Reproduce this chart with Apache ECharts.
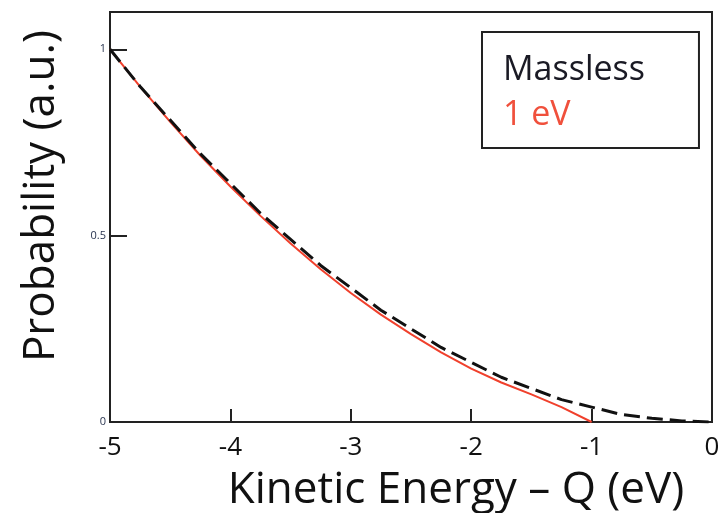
<!DOCTYPE html>
<html>
<head>
<meta charset="utf-8">
<script src="https://cdn.jsdelivr.net/npm/echarts@6/dist/echarts.min.js"></script>
<style>
  html, body { margin: 0; padding: 0; background: #fff; }
  #chart { width: 718px; height: 513px; }
</style>
</head>
<body>
<div id="chart"></div>
<script>
// Kinetic energy relative to the endpoint Q (eV)
const energy = [-5, -4.75, -4.5, -4.25, -4, -3.75, -3.5, -3.25, -3, -2.75, -2.5,
                -2.25, -2, -1.75, -1.5, -1.25, -1, -0.75, -0.5, -0.25, 0];

// Spectrum shape for a massless neutrino
const massless = [1.00, 0.90, 0.81, 0.72, 0.64, 0.56, 0.49, 0.42, 0.36, 0.30, 0.25,
                  0.20, 0.16, 0.12, 0.09, 0.06, 0.04, 0.02, 0.01, 0.003, 0];

// Spectrum shape for a 1 eV neutrino (ends at -1 eV)
const energyMassive = [-5, -4.75, -4.5, -4.25, -4, -3.75, -3.5, -3.25, -3, -2.75, -2.5,
                       -2.25, -2, -1.75, -1.5, -1.25, -1];
const massive1eV = [1.00, 0.90, 0.805, 0.715, 0.632, 0.553, 0.479, 0.41, 0.346, 0.288, 0.236,
                    0.187, 0.143, 0.106, 0.074, 0.04, 0];

const xTicks = [-5, -4, -3, -2, -1, 0];
const yTicks = [0, 0.5, 1];

const seriesNames = ['Massless', '1 eV'];

const pairs = (xs, ys) => xs.map((x, i) => [x, ys[i]]);

const font = '"Open Sans", Lato, sans-serif';

const chart = echarts.init(document.getElementById('chart'), null, { renderer: 'canvas' });

chart.setOption({
  animation: false,
  backgroundColor: '#ffffff',
  grid: {
    left: 110, right: 6, top: 12, bottom: 91,
    outerBoundsMode: 'none',
    containLabel: false,
    show: true, borderColor: '#222', borderWidth: 2, backgroundColor: 'transparent'
  },
  legend: {
    orient: 'vertical',
    left: 482, top: 32,
    padding: [16, 54, 10, 16],
    itemWidth: 0, itemHeight: 0, itemGap: 0,
    icon: 'none',
    borderColor: '#222', borderWidth: 2,
    selectedMode: false,
    textStyle: { fontFamily: font, fontSize: 34, lineHeight: 45, padding: 0 },
    data: [
      { name: seriesNames[0], textStyle: { color: '#1a1a24' } },
      { name: seriesNames[1], textStyle: { color: '#f0503c' } }
    ]
  },
  xAxis: {
    type: 'value',
    min: xTicks[0], max: xTicks[xTicks.length - 1], interval: 1,
    name: 'Kinetic Energy \u2013 Q (eV)',
    nameLocation: 'middle', nameGap: 46,
    nameTextStyle: { fontFamily: font, fontSize: 44, color: '#111', padding: [0, 0, 0, 90] },
    axisLine: { show: true, onZero: false, lineStyle: { color: '#222', width: 2 } },
    axisTick: { show: true, inside: true, length: 13, lineStyle: { color: '#222', width: 2 } },
    axisLabel: {
      fontFamily: font, fontSize: 26, color: '#111', margin: 13,
      formatter: v => String(v)
    },
    splitLine: { show: false }
  },
  yAxis: {
    type: 'value',
    min: 0, max: 1.1, interval: 0.5,
    name: 'Probability (a.u.)',
    nameLocation: 'middle', nameGap: 47, nameRotate: 90,
    nameTextStyle: { fontFamily: font, fontSize: 44, color: '#111', padding: [0, 0, 0, 42] },
    axisLine: { show: true, onZero: false, lineStyle: { color: '#222', width: 2 } },
    axisTick: { show: true, inside: true, length: 17, lineStyle: { color: '#222', width: 2 } },
    axisLabel: {
      fontFamily: font, fontSize: 11, color: '#2a3550', margin: 4,
      showMaxLabel: false,
      formatter: v => (yTicks.indexOf(v) >= 0 ? String(v) : '')
    },
    splitLine: { show: false }
  },
  series: [
    {
      name: seriesNames[0],
      type: 'line',
      data: pairs(energy, massless),
      showSymbol: false,
      smooth: false,
      z: 3,
      lineStyle: { color: '#111', width: 3, type: [16, 7] }
    },
    {
      name: seriesNames[1],
      type: 'line',
      data: pairs(energyMassive, massive1eV),
      showSymbol: false,
      smooth: false,
      z: 2,
      lineStyle: { color: '#f0402c', width: 2 }
    }
  ]
});
</script>
</body>
</html>
